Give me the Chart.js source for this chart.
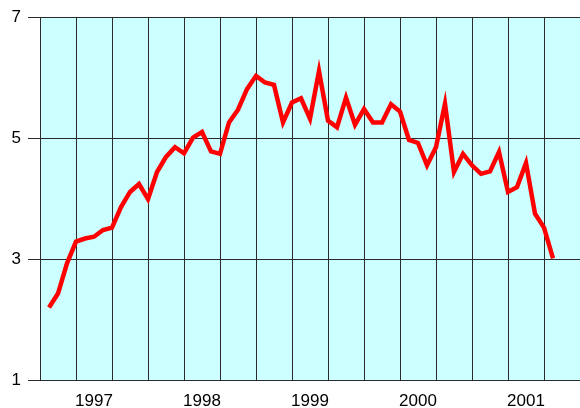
<!DOCTYPE html>
<html>
<head>
<meta charset="utf-8">
<script src="https://cdn.jsdelivr.net/npm/chart.js@4"></script>
<style>
    body { margin: 0; background: #fff; }
    canvas { display: block; }
</style>
</head>
<body>
<canvas id="grafico" width="580" height="408"></canvas>
<script>
    // months counted from Jan 1997 = 0; series starts Feb 1997
    const anos = ['1997', '1998', '1999', '2000', '2001'];
    const primeiroMes = 1;
    const valores = [
        2.20, 2.43, 2.93, 3.29, 3.34, 3.37, 3.48, 3.52, 3.86, 4.11, 4.24,
        3.99, 4.44, 4.69, 4.85, 4.75, 5.01, 5.10, 4.78, 4.74, 5.26, 5.47, 5.81,
        6.03, 5.92, 5.88, 5.26, 5.59, 5.66, 5.32, 6.11, 5.29, 5.18, 5.67, 5.22,
        5.48, 5.26, 5.26, 5.56, 5.44, 4.97, 4.92, 4.55, 4.85, 5.57, 4.44, 4.74,
        4.55, 4.41, 4.45, 4.77, 4.11, 4.19, 4.59, 3.75, 3.52, 3.01
    ];
    const ticksY = [1, 3, 5, 7];

    const pontos = valores.map((v, i) => ({ x: primeiroMes + i, y: v }));

    const fundoArea = {
        id: 'fundoArea',
        beforeDraw(chart) {
            const { ctx, chartArea: a } = chart;
            ctx.save();
            ctx.fillStyle = '#ccffff';
            ctx.fillRect(a.left, a.top, a.right - a.left, a.bottom - a.top);
            ctx.restore();
        }
    };

    const fonte = { family: "'Liberation Sans', Arial, sans-serif", size: 17 };

    new Chart(document.getElementById('grafico'), {
        type: 'line',
        data: {
            datasets: [{
                data: pontos,
                borderColor: '#ff0000',
                borderWidth: 4.5,
                borderJoinStyle: 'miter',
                pointRadius: 0,
                tension: 0,
                fill: false
            }]
        },
        options: {
            responsive: false,
            animation: false,
            layout: { padding: { top: 16, right: 0, left: 0, bottom: 0 } },
            plugins: { legend: { display: false }, tooltip: { enabled: false } },
            scales: {
                x: {
                    type: 'linear',
                    min: 0,
                    max: 60,
                    afterBuildTicks: s => {
                        const t = [];
                        for (let m = 0; m <= 60; m += 2) t.push({ value: m });
                        s.ticks = t;
                    },
                    afterFit: s => {
                        s.height = 28;
                        s.paddingLeft = 0;
                        s.paddingRight = 0;
                    },
                    border: { display: false },
                    grid: {
                        drawTicks: false,
                        color: c => c.tick && c.tick.value % 4 === 0 && c.tick.value < 60 ? '#2a2a2a' : 'transparent'
                    },
                    ticks: {
                        autoSkip: false,
                        maxRotation: 0,
                        padding: 11,
                        color: '#000',
                        font: fonte,
                        callback: v => (v - 6) % 12 === 0 ? anos[(v - 6) / 12] : ''
                    }
                },
                y: {
                    min: 1,
                    max: 7,
                    afterBuildTicks: s => { s.ticks = ticksY.map(v => ({ value: v })); },
                    afterFit: s => { s.width = 40; },
                    border: { display: false },
                    grid: { color: '#2a2a2a', tickLength: 12 },
                    ticks: { padding: 7, color: '#000', font: fonte }
                }
            }
        },
        plugins: [fundoArea]
    });
</script>
</body>
</html>
